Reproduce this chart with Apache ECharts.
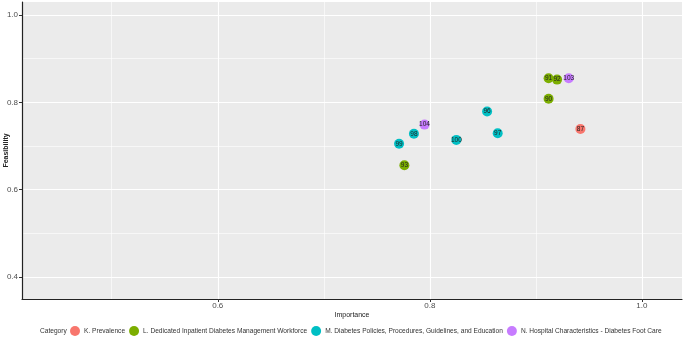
<!DOCTYPE html>
<html>
<head>
<meta charset="utf-8">
<script src="https://cdn.jsdelivr.net/npm/echarts@6/dist/echarts.min.js"></script>
<style>html,body{margin:0;padding:0;background:#fff;}#c{width:685px;height:339px;}</style>
</head>
<body>
<div id="c"></div>
<script>
const categories = [
  "K. Prevalence",
  "L. Dedicated Inpatient Diabetes Management Workforce",
  "M. Diabetes Policies, Procedures, Guidelines, and Education",
  "N. Hospital Characteristics - Diabetes Foot Care"
];
const colors = ["#F8766D", "#7CAE00", "#00BFC4", "#C77CFF"];
const ids        = [87, 90, 91, 92, 93, 96, 97, 98, 99, 100, 103, 104];
const importance = [0.942, 0.912, 0.912, 0.920, 0.776, 0.854, 0.864, 0.785, 0.771, 0.825, 0.931, 0.795];
const feasibility= [0.739, 0.808, 0.855, 0.852, 0.656, 0.779, 0.729, 0.728, 0.705, 0.714, 0.855, 0.749];
const catIndex   = [0, 1, 1, 1, 1, 2, 2, 2, 2, 2, 3, 3];
const xMajorTicks = [0.6, 0.8, 1.0];
const xMinorTicks = [0.5, 0.7, 0.9];
const yMajorTicks = [0.4, 0.6, 0.8, 1.0];
const yMinorTicks = [0.5, 0.7, 0.9];
const xRange = [0.4154, 1.0378];
const yRange = [0.3497, 1.0297];

const font = "Liberation Sans, Arial, sans-serif";
const chart = echarts.init(document.getElementById('c'), null, {renderer: 'canvas'});

const series = categories.map((name, ci) => ({
  name: name,
  type: 'scatter',
  xAxisIndex: 0,
  yAxisIndex: 0,
  symbolSize: 10,
  itemStyle: {color: colors[ci], opacity: 1},
  label: {
    show: true,
    position: 'inside',
    formatter: p => String(p.value[2]),
    fontSize: 6.5,
    color: '#222',
    fontFamily: font
  },
  emphasis: {disabled: true},
  data: ids.map((id, i) => catIndex[i] === ci ? [importance[i], feasibility[i], id] : null).filter(d => d)
}));

function majorAxis(range, ticks, isX) {
  return {
    type: 'value',
    min: range[0], max: range[1],
    position: isX ? 'bottom' : 'left',
    axisLine: {show: true, onZero: false, lineStyle: {color: '#222', width: 1.2}},
    axisTick: {show: true, length: 3, customValues: ticks, lineStyle: {color: '#333', width: 1}},
    axisLabel: {show: true, customValues: ticks, color: '#4D4D4D', fontSize: 8, fontFamily: font,
                margin: isX ? 3 : 4, formatter: v => v.toFixed(1)},
    splitLine: {show: true, lineStyle: {color: '#ffffff', width: 1.1}},
    name: isX ? 'Importance' : 'Feasibility',
    nameLocation: 'middle',
    nameMoveOverlap: false,
    nameGap: isX ? 13 : 12,
    nameTextStyle: {color: '#222', fontSize: 7, fontFamily: font, fontWeight: isX ? 'normal' : 'bold'}
  };
}
function minorAxis(range, ticks, isX) {
  return {
    type: 'value',
    min: range[0], max: range[1],
    position: isX ? 'bottom' : 'left',
    axisLine: {show: false},
    axisTick: {show: false, customValues: ticks},
    axisLabel: {show: false, customValues: ticks},
    splitLine: {show: true, lineStyle: {color: '#ffffff', width: 0.6}}
  };
}

chart.setOption({
  animation: false,
  backgroundColor: '#ffffff',
  grid: {left: 22, right: 3, top: 2, bottom: 40, show: true, backgroundColor: '#EBEBEB', borderWidth: 0,
         containLabel: false, outerBoundsMode: 'none'},
  xAxis: [majorAxis(xRange, xMajorTicks, true), minorAxis(xRange, xMinorTicks, true)],
  yAxis: [majorAxis(yRange, yMajorTicks, false), minorAxis(yRange, yMinorTicks, false)],
  legend: {
    left: 70, top: 326, width: 640,
    itemWidth: 10, itemHeight: 10, itemGap: 4,
    icon: 'circle',
    textStyle: {fontSize: 6.6, color: '#333', fontFamily: font, padding: [0, 0, 0, -1]},
    padding: 0,
    selectedMode: false,
    data: categories
  },
  graphic: [{
    type: 'text', left: 40, top: 327.5,
    style: {text: 'Category', fontSize: 6.6, fill: '#333', fontFamily: font}
  }],
  series: series
});
</script>
</body>
</html>
